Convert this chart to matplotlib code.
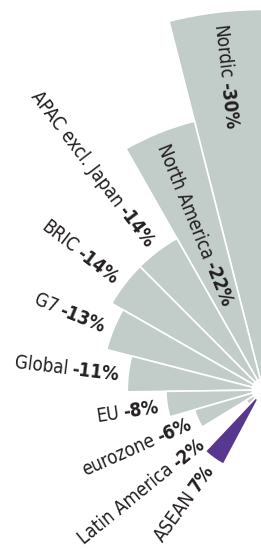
import numpy as np
import matplotlib
matplotlib.use('Agg')
import matplotlib.pyplot as plt
from matplotlib.font_manager import FontProperties

plt.rcParams['font.family'] = ['DejaVu Sans']

# data
categories = ['Nordic', 'North America', 'APAC excl. Japan', 'BRIC', 'G7',
              'Global', 'EU', 'eurozone', 'Latin America', 'ASEAN']
values = [-30, -22, -14, -14, -13, -11, -8, -6, -2, 7]
inside = ['Nordic', 'North America']   # labels drawn inside the bar

grey = '#c2ccc8'
purple = '#58388f'
text_col = '#231f20'

fs = 13.5
fp_reg = FontProperties(family='DejaVu Sans', stretch='condensed', size=fs)
fp_bold = FontProperties(family='DejaVu Sans', stretch='condensed', weight='bold', size=fs)

W, H = 261, 549
fig = plt.figure(figsize=(W / 100, H / 100), dpi=100)
cx, cy = 263, 390      # centre of the fan, pixels from top-left
R = 387                # pixel radius of the outer limit
ax = fig.add_axes([(cx - R) / W, (H - cy - R) / H, 2 * R / W, 2 * R / H],
                  projection='polar')
ax.set_theta_zero_location('N')
ax.set_theta_direction(1)
ax.set_ylim(0.47, 30.5)
ax.axis('off')

step = np.deg2rad(15.3)
theta = np.deg2rad(-1) + step / 2 + step * np.arange(len(values))
base = 1.3
mag = np.abs(values)
colors = [purple if v > 0 else grey for v in values]

ax.bar(theta, mag - base, width=step, bottom=base, color=colors,
       edgecolor='white', linewidth=1.2, align='center')

renderer = fig.canvas.get_renderer()


def text_width(s, fp):
    t = fig.text(0, 0, s, fontproperties=fp)
    w = t.get_window_extent(renderer).width
    t.remove()
    return w


gap = 4
for t, name, v, m in zip(theta, categories, values, mag):
    rot = np.rad2deg(t) - 90
    d = np.array([np.cos(np.deg2rad(rot)), np.sin(np.deg2rad(rot))])
    val = '{}%'.format(v)
    kw = dict(rotation=rot, rotation_mode='anchor', va='center_baseline',
              color=text_col, textcoords='offset pixels')
    if name in inside:
        r = m - 1.0
        off = (text_width(name, fp_reg) + gap) * d
        ax.annotate(name, (t, r), xytext=(0, 0), ha='left', fontproperties=fp_reg, **kw)
        ax.annotate(val, (t, r), xytext=tuple(off), ha='left', fontproperties=fp_bold, **kw)
    else:
        r = max(m, 6) + 0.7
        off = -(text_width(val, fp_bold) + gap) * d
        ax.annotate(val, (t, r), xytext=(0, 0), ha='right', fontproperties=fp_bold, **kw)
        ax.annotate(name, (t, r), xytext=tuple(off), ha='right', fontproperties=fp_reg, **kw)

fig.savefig('out.png', dpi=100)
